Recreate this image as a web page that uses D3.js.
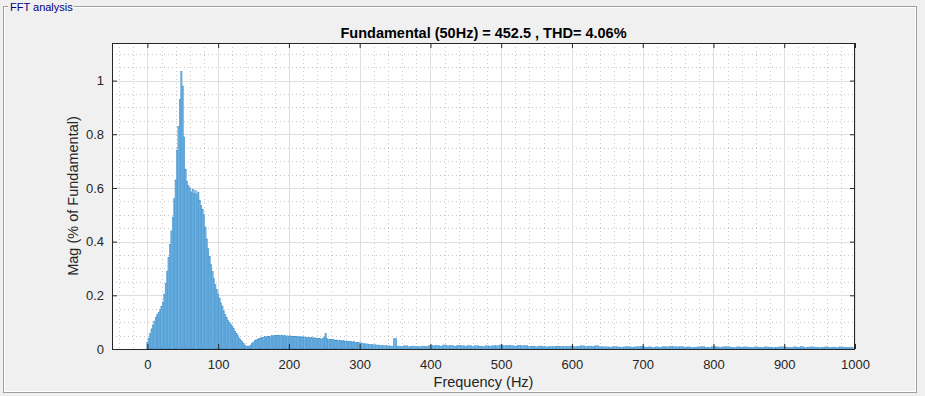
<!DOCTYPE html>
<html>
<head>
<meta charset="utf-8">
<script src="https://cdn.jsdelivr.net/npm/d3@7"></script>
<style>
  body { margin: 0; background: #f0f0f0; }
  svg { display: block; font-family: "Liberation Sans", Arial, sans-serif; }
</style>
</head>
<body>
<svg id="chart" width="925" height="396"></svg>
<script>
const panelTitle = "FFT analysis";
const titleText = "Fundamental (50Hz) = 452.5 , THD= 4.06%";
const xLabel = "Frequency (Hz)";
const yLabel = "Mag (% of Fundamental)";

// 0 .. 298 Hz, one bin every 2 Hz
const lowStart = 0, lowStep = 2;
const magLow = [
  0.025,0.04,0.058,0.075,0.09,0.104,0.118,0.128,0.135,0.146,
  0.158,0.175,0.205,0.245,0.29,0.34,0.39,0.44,0.49,0.56,
  0.63,0.74,0.83,0.93,1.035,0.98,0.79,0.67,0.625,0.61,
  0.6,0.585,0.595,0.58,0.59,0.575,0.585,0.555,0.535,0.52,
  0.5,0.455,0.41,0.375,0.345,0.315,0.29,0.262,0.24,0.222,
  0.205,0.19,0.172,0.16,0.142,0.128,0.117,0.108,0.1,0.092,
  0.086,0.076,0.066,0.058,0.05,0.041,0.034,0.027,0.021,0.015,
  0.011,0.009,0.011,0.015,0.021,0.026,0.031,0.034,0.037,0.04,
  0.041,0.043,0.044,0.046,0.045,0.047,0.048,0.047,0.05,0.049,
  0.051,0.05,0.052,0.051,0.05,0.052,0.049,0.05,0.048,0.049,
  0.047,0.049,0.046,0.048,0.047,0.046,0.048,0.045,0.046,0.044,
  0.046,0.043,0.045,0.042,0.044,0.041,0.043,0.04,0.042,0.039,
  0.04,0.038,0.039,0.037,0.039,0.045,0.058,0.038,0.036,0.037,
  0.035,0.036,0.034,0.033,0.034,0.032,0.033,0.031,0.03,0.031,
  0.029,0.03,0.028,0.027,0.028,0.026,0.027,0.025,0.024,0.025
];

// 300 .. 995 Hz, one bin every 5 Hz
const highStart = 300, highStep = 5;
const magHigh = [
  0.024,0.021,0.019,0.018,0.016,0.015,0.014,0.013,0.012,0.011,
  0.04,0.011,0.01,0.012,0.009,0.011,0.01,0.009,0.011,0.01,
  0.013,0.012,0.014,0.011,0.015,0.012,0.013,0.011,0.014,0.012,
  0.011,0.013,0.01,0.012,0.011,0.01,0.012,0.011,0.013,0.012,
  0.015,0.012,0.014,0.013,0.011,0.014,0.012,0.013,0.01,0.011,
  0.009,0.011,0.01,0.008,0.01,0.009,0.011,0.01,0.009,0.01,
  0.011,0.009,0.01,0.012,0.009,0.011,0.01,0.012,0.009,0.008,
  0.008,0.007,0.009,0.008,0.007,0.008,0.009,0.007,0.008,0.009,
  0.01,0.007,0.008,0.006,0.008,0.007,0.009,0.008,0.01,0.009,
  0.008,0.009,0.007,0.008,0.006,0.007,0.008,0.009,0.007,0.006,
  0.009,0.008,0.007,0.008,0.009,0.007,0.006,0.008,0.007,0.008,
  0.007,0.006,0.008,0.007,0.006,0.008,0.007,0.006,0.007,0.008,
  0.008,0.007,0.006,0.008,0.007,0.009,0.006,0.007,0.008,0.007,
  0.006,0.007,0.008,0.006,0.007,0.006,0.008,0.007,0.006,0.007
];

const xTicks = [0,100,200,300,400,500,600,700,800,900,1000];
const yTicks = [0,0.2,0.4,0.6,0.8,1];

const bins = magLow.map((m, i) => ({ f: lowStart + i * lowStep, w: lowStep, m: m }))
  .concat(magHigh.map((m, i) => ({ f: highStart + i * highStep, w: highStep, m: m })));

const svg = d3.select("#chart");
const L = 112, R = 855, T = 43, B = 349;
const x = d3.scaleLinear().domain([-50, 1000]).range([L, R]);
const y = d3.scaleLinear().domain([0, 1.14]).range([B, T]);

// uipanel frame
svg.append("rect").attr("x", 3.5).attr("y", 6.5).attr("width", 913).attr("height", 386)
  .attr("fill", "none").attr("stroke", "#a0a0a0");
svg.append("rect").attr("x", 4.5).attr("y", 7.5).attr("width", 911).attr("height", 384)
  .attr("fill", "none").attr("stroke", "#ffffff");
svg.append("rect").attr("x", 8).attr("y", 0).attr("width", 66).attr("height", 14).attr("fill", "#f0f0f0");
svg.append("text").attr("x", 10).attr("y", 10.5).attr("font-size", 11).attr("fill", "#000080")
  .text(panelTitle);

// axes background
svg.append("rect").attr("x", L).attr("y", T).attr("width", R - L).attr("height", B - T).attr("fill", "#fff");

// minor grid
const grid = svg.append("g");
const minorX = d3.range(-40, 1001, 20).filter(v => v % 100 !== 0);
const minorY = d3.range(0.05, 1.14, 0.05).filter(v => Math.abs(v * 5 - Math.round(v * 5)) > 1e-6);
grid.selectAll("line.mx").data(minorX).enter().append("line")
  .attr("x1", d => Math.round(x(d)) + 0.5).attr("x2", d => Math.round(x(d)) + 0.5)
  .attr("y1", T).attr("y2", B)
  .attr("stroke", "#c8c8c8").attr("stroke-dasharray", "1,3");
grid.selectAll("line.my").data(minorY).enter().append("line")
  .attr("y1", d => Math.round(y(d)) + 0.5).attr("y2", d => Math.round(y(d)) + 0.5)
  .attr("x1", L).attr("x2", R)
  .attr("stroke", "#c8c8c8").attr("stroke-dasharray", "1,3");
// major grid
grid.selectAll("line.gx").data(xTicks).enter().append("line")
  .attr("x1", d => Math.round(x(d)) + 0.5).attr("x2", d => Math.round(x(d)) + 0.5)
  .attr("y1", T).attr("y2", B).attr("stroke", "#dedede");
grid.selectAll("line.gy").data(yTicks).enter().append("line")
  .attr("y1", d => Math.round(y(d)) + 0.5).attr("y2", d => Math.round(y(d)) + 0.5)
  .attr("x1", L).attr("x2", R).attr("stroke", "#dedede");

// bars
svg.append("clipPath").attr("id", "clip").append("rect")
  .attr("x", L).attr("y", T).attr("width", R - L).attr("height", B - T);
svg.append("g").attr("clip-path", "url(#clip)")
  .selectAll("rect").data(bins).enter().append("rect")
  .attr("x", d => x(d.f - d.w / 2))
  .attr("width", d => x(d.w) - x(0))
  .attr("y", d => y(d.m))
  .attr("height", d => B - y(d.m))
  .attr("fill", "#6cb1e1")
  .attr("stroke", "#3588c8")
  .attr("stroke-width", 0.35);

// axes with inward ticks on all sides
const axisColor = "#262626";
function styleAxis(g, labels) {
  g.select(".domain").remove();
  g.selectAll(".tick line").attr("stroke", axisColor);
  g.selectAll(".tick text").attr("fill", axisColor).attr("font-size", 13)
    .attr("font-family", "\"Liberation Sans\", Arial, sans-serif");
  if (!labels) g.selectAll(".tick text").remove();
}
svg.append("g").attr("transform", `translate(0,${B})`)
  .call(d3.axisBottom(x).tickValues(xTicks).tickSize(-5).tickPadding(11).tickFormat(d3.format("d")))
  .call(g => styleAxis(g, true));
svg.append("g").attr("transform", `translate(0,${T})`)
  .call(d3.axisTop(x).tickValues(xTicks).tickSize(-5))
  .call(g => styleAxis(g, false));
svg.append("g").attr("transform", `translate(${L},0)`)
  .call(d3.axisLeft(y).tickValues(yTicks).tickSize(-5).tickPadding(8).tickFormat(d3.format("~g")))
  .call(g => styleAxis(g, true));
svg.append("g").attr("transform", `translate(${R},0)`)
  .call(d3.axisRight(y).tickValues(yTicks).tickSize(-5))
  .call(g => styleAxis(g, false));

svg.append("rect").attr("x", L + 0.5).attr("y", T + 0.5).attr("width", R - L - 1).attr("height", B - T)
  .attr("fill", "none").attr("stroke", axisColor);

// texts
svg.append("text").attr("x", (L + R) / 2).attr("y", 38).attr("text-anchor", "middle")
  .attr("font-size", 14.5).attr("font-weight", "bold").attr("fill", "#000").text(titleText);
svg.append("text").attr("x", (L + R) / 2).attr("y", 387).attr("text-anchor", "middle")
  .attr("font-size", 14.5).attr("fill", axisColor).text(xLabel);
svg.append("text").attr("transform", `translate(78,${(T + B) / 2}) rotate(-90)`)
  .attr("text-anchor", "middle").attr("font-size", 14.5).attr("fill", axisColor).text(yLabel);
</script>
</body>
</html>
